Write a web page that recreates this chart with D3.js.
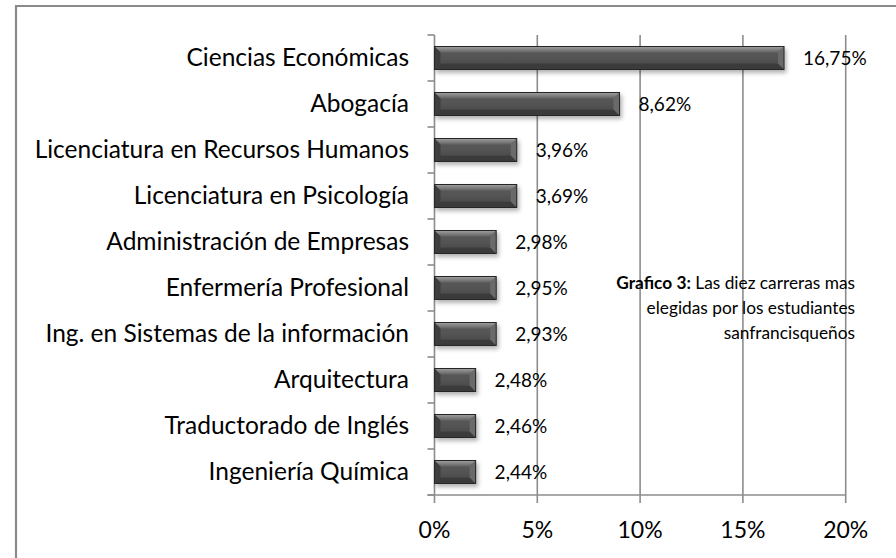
<!DOCTYPE html>
<html>
<head>
<meta charset="utf-8">
<script src="https://cdn.jsdelivr.net/npm/d3@7"></script>
<style>
  body { margin: 0; background: #fff; }
  svg { display: block; font-family: Lato, "Open Sans", sans-serif; }
</style>
</head>
<body>
<script>
var carreras = ["Ciencias Económicas", "Abogacía", "Licenciatura en Recursos Humanos",
  "Licenciatura en Psicología", "Administración de Empresas", "Enfermería Profesional",
  "Ing. en Sistemas de la información", "Arquitectura", "Traductorado de Inglés", "Ingeniería Química"];
var porcentajes = [16.75, 8.62, 3.96, 3.69, 2.98, 2.95, 2.93, 2.48, 2.46, 2.44];
var ticksX = [0, 5, 10, 15, 20];

var width = 896, height = 558;
var svg = d3.select("body").append("svg").attr("width", width).attr("height", height);

var x = d3.scaleLinear().domain([0, 20]).range([434.5, 845.7]);
var y = d3.scaleBand().domain(carreras).range([35, 495]).paddingInner(0.5).paddingOuter(0.25);

// marco
svg.append("path").attr("d", "M16,558 V6 H896").attr("fill", "none")
  .attr("stroke", "#8a8a8a").attr("stroke-width", 2.2);

var defs = svg.append("defs");
var f = defs.append("filter").attr("id", "sombra").attr("x", "-10%").attr("y", "-40%").attr("width", "130%").attr("height", "200%");
f.append("feDropShadow").attr("dx", 2).attr("dy", 3).attr("stdDeviation", 2)
  .attr("flood-color", "#000").attr("flood-opacity", 0.3);
var g1 = defs.append("linearGradient").attr("id", "cuerpo").attr("x1", 0).attr("x2", 0).attr("y1", 0).attr("y2", 1);
g1.append("stop").attr("offset", "0%").attr("stop-color", "#5e5e5e");
g1.append("stop").attr("offset", "100%").attr("stop-color", "#484848");
var g2 = defs.append("linearGradient").attr("id", "arriba").attr("x1", 0).attr("x2", 0).attr("y1", 0).attr("y2", 1);
g2.append("stop").attr("offset", "0%").attr("stop-color", "#a0a0a0");
g2.append("stop").attr("offset", "100%").attr("stop-color", "#626262");

// grilla
svg.append("g").selectAll("line").data(ticksX.slice(1)).enter().append("line")
  .attr("x1", function(d){ return x(d); }).attr("x2", function(d){ return x(d); })
  .attr("y1", 35).attr("y2", 503)
  .attr("stroke", "#8c8c8c").attr("stroke-width", 1.6);

// ejes
var bordes = d3.range(carreras.length + 1).map(function(i){ return 35 + i * y.step(); });
svg.append("line").attr("x1", x(0)).attr("x2", x(0)).attr("y1", 35).attr("y2", 503)
  .attr("stroke", "#8c8c8c").attr("stroke-width", 1.6);
svg.append("g").selectAll("line").data(bordes).enter().append("line")
  .attr("x1", x(0) - 7).attr("x2", x(0)).attr("y1", function(d){ return d; }).attr("y2", function(d){ return d; })
  .attr("stroke", "#8c8c8c").attr("stroke-width", 1.6);
svg.append("line").attr("x1", x(0) - 7).attr("x2", x(20)).attr("y1", 495).attr("y2", 495)
  .attr("stroke", "#8c8c8c").attr("stroke-width", 1.6);

svg.append("g").selectAll("text").data(ticksX).enter().append("text")
  .attr("x", function(d){ return x(d); }).attr("y", 538)
  .attr("text-anchor", "middle").attr("font-size", 23).attr("fill", "#000")
  .text(function(d){ return d + "%"; });

svg.append("g").selectAll("text").data(carreras).enter().append("text")
  .attr("x", 409).attr("y", function(d){ return y(d) + y.bandwidth() / 2; })
  .attr("dy", "0.33em").attr("text-anchor", "end").attr("font-size", 24.5).attr("fill", "#000")
  .text(function(d){ return d; });

// barras con bisel
var b = 6;
var barras = svg.append("g").selectAll("g").data(porcentajes).enter().append("g")
  .attr("filter", "url(#sombra)");
barras.each(function(p, i){
  var g = d3.select(this);
  var x0 = x(0), x1 = x(Math.round(p)), y0 = y(carreras[i]), y1 = y0 + y.bandwidth();
  g.append("rect").attr("x", x0).attr("y", y0).attr("width", x1 - x0).attr("height", y1 - y0).attr("fill", "url(#cuerpo)");
  g.append("polygon").attr("points", [[x0,y0],[x1,y0],[x1-b,y0+b],[x0+b,y0+b]].join(" ")).attr("fill", "url(#arriba)");
  g.append("polygon").attr("points", [[x0,y1],[x1,y1],[x1-b,y1-b],[x0+b,y1-b]].join(" ")).attr("fill", "#3b3b3b");
  g.append("polygon").attr("points", [[x0,y0],[x0+b,y0+b],[x0+b,y1-b],[x0,y1]].join(" ")).attr("fill", "#3e3e3e");
  g.append("polygon").attr("points", [[x1,y0],[x1-b,y0+b],[x1-b,y1-b],[x1,y1]].join(" ")).attr("fill", "#6a6a6a");
  g.append("rect").attr("x", x0).attr("y", y0).attr("width", x1 - x0).attr("height", y1 - y0)
    .attr("fill", "none").attr("stroke", "#262626").attr("stroke-width", 1);
});

svg.append("g").selectAll("text").data(porcentajes).enter().append("text")
  .attr("x", function(p){ return x(Math.round(p)) + 19; })
  .attr("y", function(p, i){ return y(carreras[i]) + y.bandwidth() / 2; })
  .attr("dy", "0.35em").attr("font-size", 19).attr("fill", "#000")
  .text(function(p){ return p.toFixed(2).replace(".", ",") + "%"; });

// nota
var nota = svg.append("text").attr("text-anchor", "end").attr("font-size", 17.3).attr("fill", "#000");
var l1 = nota.append("tspan").attr("x", 855).attr("y", 289);
l1.append("tspan").attr("font-weight", "bold").text("Grafico 3:");
l1.append("tspan").text(" Las diez carreras mas");
nota.append("tspan").attr("x", 855).attr("y", 314).text("elegidas por los estudiantes");
nota.append("tspan").attr("x", 855).attr("y", 339).text("sanfrancisqueños");
</script>
</body>
</html>
